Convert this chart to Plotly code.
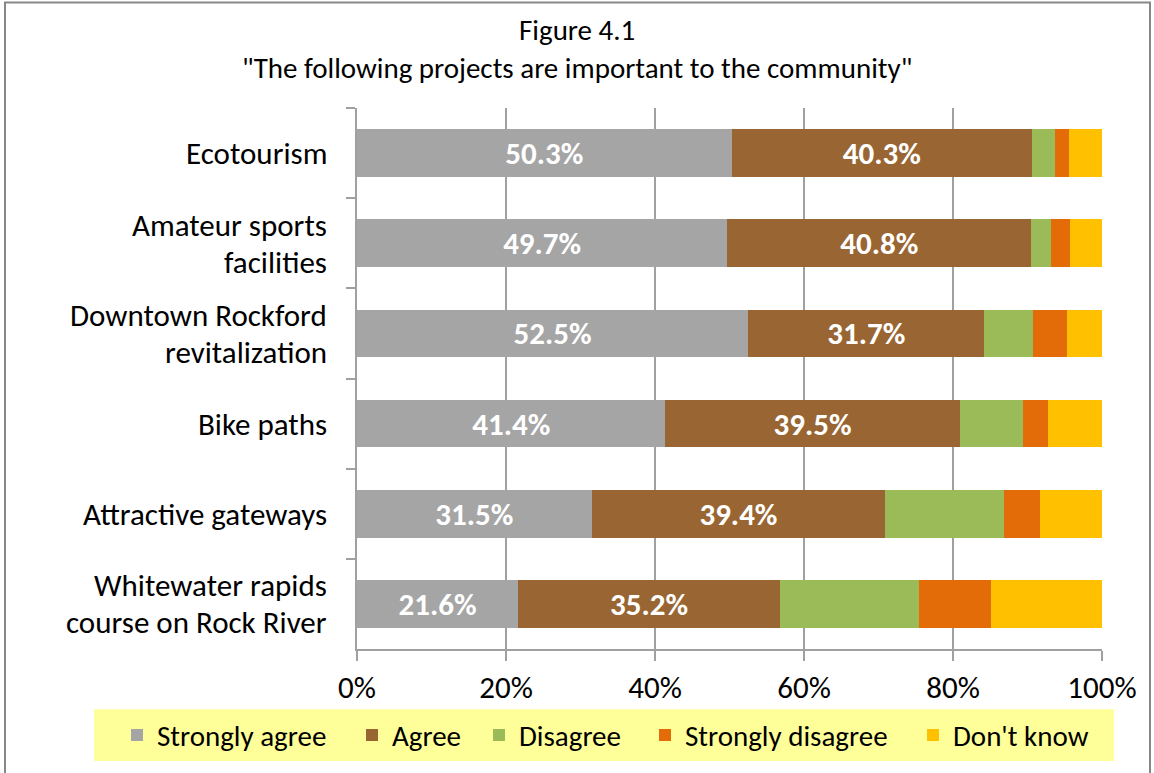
import plotly.graph_objects as go

categories = ["Ecotourism", "Amateur sports<br>facilities", "Downtown Rockford<br>revitalization",
              "Bike paths", "Attractive gateways", "Whitewater rapids<br>course on Rock River"]
series_names = ["Strongly agree", "Agree", "Disagree", "Strongly disagree", "Don't know"]
strongly_agree = [50.3, 49.7, 52.5, 41.4, 31.5, 21.6]
agree = [40.3, 40.8, 31.7, 39.5, 39.4, 35.2]
disagree = [3.1, 2.6, 6.5, 8.5, 15.9, 18.6]
strongly_disagree = [1.9, 2.6, 4.6, 3.4, 4.9, 9.7]
dont_know = [4.4, 4.3, 4.7, 7.2, 8.3, 14.9]
tick_vals = [0, 20, 40, 60, 80, 100]
tick_text = ["0%", "20%", "40%", "60%", "80%", "100%"]

colors = ["#A5A5A5", "#996633", "#9BBB59", "#E36C09", "#FFC000"]
FONT = "Carlito, Calibri, Lato, sans-serif"

# plot area in pixels: x 357..1102, y 108..652
PL, PW, PT, PH = 357, 745, 108, 544
legend_left_px = [117, 352, 479, 645, 913]
legend_ids = ["legend", "legend2", "legend3", "legend4", "legend5"]

fig = go.Figure()
all_vals = [strongly_agree, agree, disagree, strongly_disagree, dont_know]
for i, (name, vals) in enumerate(zip(series_names, all_vals)):
    show_text = i < 2
    fig.add_trace(go.Bar(
        y=categories, x=vals, name=name, orientation="h",
        marker=dict(color=colors[i], line=dict(width=0)),
        texttemplate="%{x:.1f}%" if show_text else None,
        textposition="inside" if show_text else "none",
        insidetextanchor="middle", textangle=0, constraintext="none",
        insidetextfont=dict(color="white", size=31, family=FONT, weight="bold"),
        hoverinfo="x+name", legend=legend_ids[i],
    ))

legend_layouts = {}
for lid, lx in zip(legend_ids, legend_left_px):
    legend_layouts[lid] = dict(orientation="h", x=(lx - PL) / PW, xanchor="left",
                               y=(PT + PH - 738.7) / PH, yanchor="middle",
                               bgcolor="rgba(0,0,0,0)", font=dict(size=29, family=FONT),
                               itemwidth=30)

fig.update_layout(
    barmode="stack", bargap=0.47,
    width=1154, height=773,
    margin=dict(l=PL, r=1154 - PL - PW, t=PT, b=773 - PT - PH),
    paper_bgcolor="white", plot_bgcolor="white",
    font=dict(family=FONT, size=30, color="black"),
    showlegend=True,
    **legend_layouts,
)
fig.update_xaxes(range=[0, 100], tickvals=tick_vals, ticktext=tick_text,
                 showgrid=True, gridcolor="#A0A0A0", gridwidth=2,
                 showline=True, linecolor="#A0A0A0", linewidth=2,
                 ticks="outside", ticklen=10, tickcolor="#A0A0A0", tickwidth=2,
                 tickfont=dict(size=31, family=FONT), zeroline=False, fixedrange=True)
fig.update_yaxes(autorange="reversed", showticklabels=False,
                 showline=True, linecolor="#A0A0A0", linewidth=2,
                 ticks="outside", ticklen=9, tickcolor="#A0A0A0", tickwidth=2,
                 tickson="boundaries", showgrid=False, fixedrange=True)

# category labels as annotations (to match Excel line spacing)
for cat in categories:
    lines = cat.split("<br>")
    n = len(lines)
    for j, line in enumerate(lines):
        shift = (n - 1) * 18.5 - j * 37
        fig.add_annotation(x=0, xref="paper", y=cat, yref="y", text=line,
                           showarrow=False, xanchor="right", xshift=-28, yshift=shift,
                           font=dict(size=31, family=FONT, color="black"))

# title
title_x = (577 - PL) / PW
fig.add_annotation(x=title_x, xref="paper", y=1 + (PT - 30) / PH, yref="paper", text="Figure 4.1",
                   showarrow=False, xanchor="center", yanchor="middle",
                   font=dict(size=29, family=FONT))
fig.add_annotation(x=title_x, xref="paper", y=1 + (PT - 68) / PH, yref="paper",
                   text="\"The following projects are important to the community\"",
                   showarrow=False, xanchor="center", yanchor="middle",
                   font=dict(size=29, family=FONT))

# outer border and legend background
fig.add_shape(type="rect", xref="paper", yref="paper",
              x0=(5 - PL) / PW, x1=(1150 - PL) / PW, y0=-0.35, y1=1 + (PT - 2) / PH,
              line=dict(color="#878787", width=2), fillcolor="rgba(0,0,0,0)", layer="below")
fig.add_shape(type="rect", xref="paper", yref="paper",
              x0=(94 - PL) / PW, x1=(1114 - PL) / PW,
              y0=(PT + PH - 764.7) / PH, y1=(PT + PH - 712.7) / PH,
              line=dict(width=0), fillcolor="#FFFF99", layer="below")

fig.write_html("out.html", config={"displayModeBar": False},
               post_script="document.body.style.margin='0';document.body.style.overflow='hidden';")
